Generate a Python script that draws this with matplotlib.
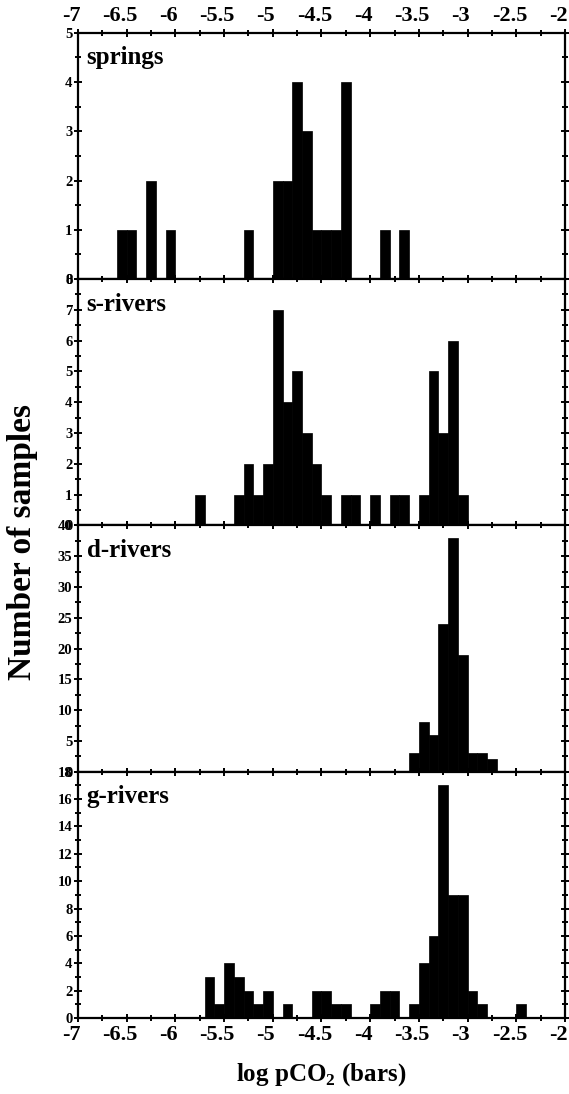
import numpy as np
import matplotlib
matplotlib.use("Agg")
import matplotlib.pyplot as plt
from matplotlib.ticker import MultipleLocator
from matplotlib.transforms import ScaledTranslation

plt.rcParams['font.family'] = ['Liberation Serif', 'DejaVu Serif']
plt.rcParams['font.weight'] = 'bold'
plt.rcParams['mathtext.fontset'] = 'custom'
plt.rcParams['mathtext.rm'] = 'Liberation Serif:bold'
plt.rcParams['mathtext.bf'] = 'Liberation Serif:bold'

# lower edge of each 0.1-wide log pCO2 bin, and the sample count in it
springs_bins = [-6.6, -6.5, -6.3, -6.1, -5.3, -5.0, -4.9, -4.8, -4.7, -4.6, -4.5, -4.4, -4.3, -3.9, -3.7]
springs_counts = [1, 1, 2, 1, 1, 2, 2, 4, 3, 1, 1, 1, 4, 1, 1]

srivers_bins = [-5.8, -5.4, -5.3, -5.2, -5.1, -5.0, -4.9, -4.8, -4.7, -4.6, -4.5,
                -4.3, -4.2, -4.0, -3.8, -3.7, -3.5, -3.4, -3.3, -3.2, -3.1]
srivers_counts = [1, 1, 2, 1, 2, 7, 4, 5, 3, 2, 1, 1, 1, 1, 1, 1, 1, 5, 3, 6, 1]

drivers_bins = [-3.6, -3.5, -3.4, -3.3, -3.2, -3.1, -3.0, -2.9, -2.8]
drivers_counts = [3, 8, 6, 24, 38, 19, 3, 3, 2]

grivers_bins = [-5.7, -5.6, -5.5, -5.4, -5.3, -5.2, -5.1, -4.9, -4.6, -4.5, -4.4, -4.3,
                -4.0, -3.9, -3.8, -3.6, -3.5, -3.4, -3.3, -3.2, -3.1, -3.0, -2.9, -2.5]
grivers_counts = [3, 1, 4, 3, 2, 1, 2, 1, 2, 2, 1, 1, 1, 2, 2, 1, 4, 6, 17, 9, 9, 2, 1, 1]

panel_names = ['springs', 's-rivers', 'd-rivers', 'g-rivers']
panel_bins = [springs_bins, srivers_bins, drivers_bins, grivers_bins]
panel_counts = [springs_counts, srivers_counts, drivers_counts, grivers_counts]
y_max = [5, 8, 40, 18]
y_major = [1, 1, 5, 2]
y_minor = [0.5, 0.5, 2.5, 1]

fig, axes = plt.subplots(4, 1, sharex=True, figsize=(5.69, 10.94), dpi=100)
fig.subplots_adjust(left=0.137, right=0.993, bottom=0.0695, top=0.970, hspace=0)

for i, ax in enumerate(axes):
    ax.bar(panel_bins[i], panel_counts[i], width=0.1, align='edge',
           color='black', edgecolor='black', linewidth=0.5)
    ax.set_xlim(-7, -2)
    ax.set_ylim(0, y_max[i])
    ax.xaxis.set_major_locator(MultipleLocator(0.5))
    ax.xaxis.set_minor_locator(MultipleLocator(0.25))
    ax.yaxis.set_major_locator(MultipleLocator(y_major[i]))
    ax.yaxis.set_minor_locator(MultipleLocator(y_minor[i]))
    for s in ax.spines.values():
        s.set_linewidth(1.6)
    ax.tick_params(which='both', direction='inout', top=True, right=True,
                   width=1.4, labelbottom=False, labeltop=False)
    ax.tick_params(which='major', length=6)
    ax.tick_params(which='minor', length=4)
    ax.tick_params(axis='y', labelsize=10.5, pad=1)
    ax.tick_params(axis='x', labelsize=16, pad=2)
    ax.text(0.018, 0.945, panel_names[i], transform=ax.transAxes,
            fontsize=18, fontweight='bold', va='top', ha='left')

xt = np.arange(-7, -1.9, 0.5)
xl = ['%g' % v for v in xt]
axes[0].tick_params(axis='x', labeltop=True)
axes[-1].tick_params(axis='x', labelbottom=True)
axes[-1].set_xticks(xt)
axes[-1].set_xticklabels(xl)
axes[-1].set_xlabel('log pCO$_2$ (bars)', fontsize=18, fontweight='bold', labelpad=12)

# nudge the x tick numbers a little to the left of their ticks
shift = ScaledTranslation(-5 / 72, 0, fig.dpi_scale_trans)
for ax in (axes[0], axes[-1]):
    for t in ax.xaxis.get_major_ticks():
        t.label1.set_transform(t.label1.get_transform() + shift)
        t.label2.set_transform(t.label2.get_transform() + shift)

fig.text(0.039, 0.505, 'Number of samples', rotation=90, fontsize=24,
         fontweight='bold', ha='center', va='center')

fig.savefig('out.png', dpi=100)
